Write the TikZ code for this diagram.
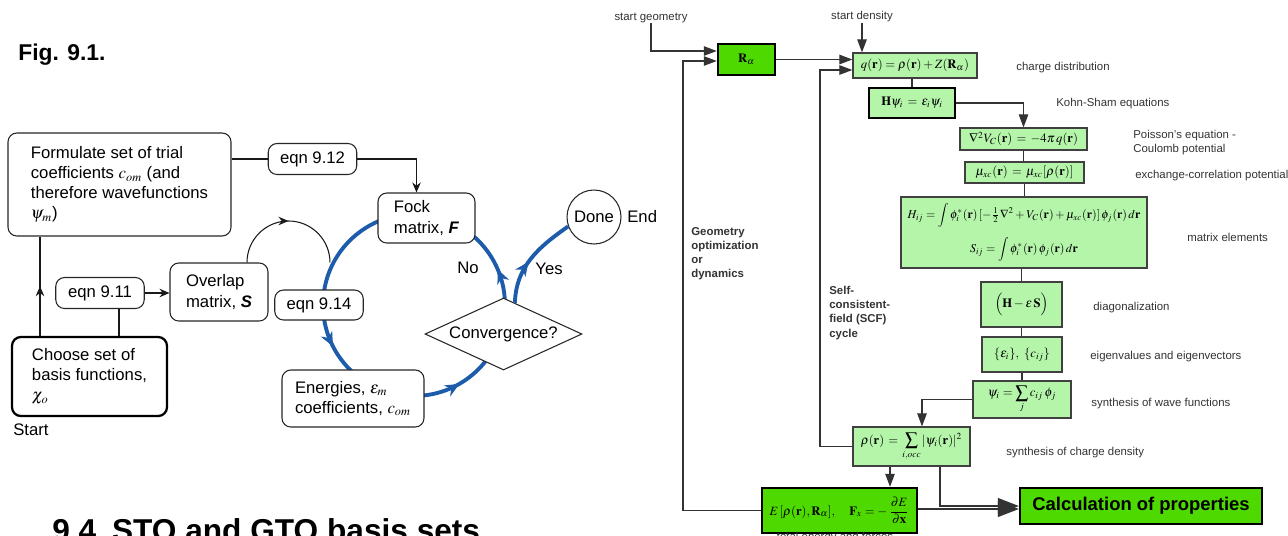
\documentclass[tikz,border=0pt]{standalone}
\usepackage{amsmath}
\usepackage{mathptmx}
\usepackage[no-math]{fontspec}
\setmainfont{Liberation Sans}
\usepackage{tikz}
\usetikzlibrary{shapes.geometric,arrows.meta,positioning,decorations.markings}

\definecolor{cycblue}{RGB}{28,92,170}
\definecolor{dftlight}{RGB}{180,245,170}
\definecolor{dftgreen}{RGB}{78,218,0}

\begin{document}
\begin{tikzpicture}[
        x=0.02cm, y=-0.02cm,
        stepbox/.style={rectangle, rounded corners=5pt, draw=black!85, line width=0.6pt, fill=white, align=left, inner sep=2pt, font=\fontsize{9.5}{11.4}\selectfont},
        startbox/.style={stepbox, draw=black, line width=1.3pt},
        eqnbox/.style={stepbox, minimum width=1.77cm, minimum height=0.62cm},
        plain/.style={inner sep=0pt, font=\fontsize{9.5}{11.4}\selectfont},
        conn/.style={draw=black!90, line width=0.6pt},
        arrow/.style={conn, -{Stealth[length=2mm,width=1.7mm]}},
        midarrow/.style={conn, postaction={decorate}, decoration={markings, mark=at position #1 with {\arrow{Stealth[length=2mm,width=1.7mm]}}}},
        cycline/.style={draw=cycblue, line width=2.2pt, >={Stealth[length=2.8mm,width=2.5mm]}},
        dft/.style={rectangle, draw=black!75, line width=0.7pt, fill=dftlight, inner sep=1pt, font=\fontsize{7.2}{8.6}\selectfont},
        dftbold/.style={dft, draw=black, line width=1.4pt},
        dftmain/.style={dftbold, fill=dftgreen},
        note/.style={inner sep=0pt, align=left, text=black!80, font=\fontsize{6.5}{8}\selectfont},
        notebold/.style={note, font=\fontsize{6.5}{8}\selectfont\bfseries},
        dline/.style={draw=black!80, line width=0.6pt},
        darrow/.style={dline, -{Triangle[length=2.6mm,width=1.9mm]}},
        bigarrow/.style={dline, -{Triangle[length=4.2mm,width=3.2mm]}}
    ]
        \useasboundingbox (0,0) rectangle (1288,535);
        \clip (0,0) rectangle (1288,535);

        % Left: SCF procedure
        \node[anchor=west, inner sep=0pt, font=\fontsize{13}{15}\selectfont\bfseries] (figlabel) at (18,55) {Fig. 9.1.};

        % blue cycle, under the boxes
        \coordinate (cyc) at (414,305);
        \draw[cycline, postaction={decorate}, decoration={markings,
                mark=at position 0.064 with {\arrow{>}},
                mark=at position 0.575 with {\arrow{>}},
                mark=at position 0.833 with {\arrow{>}}}]
            (cyc) ++(0:1.82cm) arc[start angle=0, end angle=360, radius=1.82cm];

        \node[stepbox, minimum width=4.46cm, minimum height=2.06cm] (formulate) at (119.5,184.5) {Formulate set of trial\\coefficients $c_{om}$ (and\\therefore wavefunctions\\$\psi_m$)};
        \node[eqnbox] (eqn912) at (312.5,159) {eqn 9.12};
        \node[stepbox, minimum width=1.94cm, minimum height=1cm] (fock) at (426.5,218) {Fock\\matrix, \textbf{\textit{F}}};
        \node[eqnbox] (eqn911) at (100,293) {eqn 9.11};
        \node[stepbox, minimum width=1.96cm, minimum height=1.16cm] (overlap) at (219,292) {Overlap\\matrix, \textbf{\textit{S}}};
        \node[startbox, minimum width=3.1cm, minimum height=1.58cm] (choose) at (89.5,376.5) {Choose set of\\basis functions,\\$\chi_o$};
        \node[plain, anchor=west] (start) at (13,430) {Start};
        \node[eqnbox, minimum height=0.6cm] (eqn914) at (319,305) {eqn 9.14};
        \node[stepbox, minimum width=2.84cm, minimum height=1.14cm] (energies) at (353,398.5) {Energies, $\varepsilon_m$\\coefficients, $c_{om}$};
        \node[diamond, aspect=2.18, draw=black!85, line width=0.6pt, fill=white, inner sep=0.5pt, minimum width=3.14cm, minimum height=1.44cm, font=\fontsize{9.5}{11.4}\selectfont] (conv) at (503.5,334) {Convergence?};
        \node[circle, draw=black!85, line width=0.6pt, fill=white, minimum size=1.08cm, inner sep=0pt, font=\fontsize{9.5}{11.4}\selectfont] (done) at (594,217) {Done};
        \node[plain, anchor=west] (endlabel) at (627,217) {End};
        \node[plain] (nolabel) at (468,268) {No};
        \node[plain] (yeslabel) at (549,269) {Yes};

        \draw[conn] (formulate.east |- eqn912.west) -- (eqn912.west);
        \draw[arrow] (eqn912.east) -| ([xshift=-0.2cm]fock.north);
        \draw[midarrow=0.5] ([xshift=-0.99cm]choose.north) -- ([xshift=-0.99cm]choose.north |- formulate.south);
        \draw[conn] ([xshift=0.38cm]eqn911.south) -- ([xshift=0.38cm]eqn911.south |- choose.north);
        \draw[arrow] (eqn911.east) -- (eqn911.east -| overlap.west);
        \draw[midarrow=0.5] ([xshift=0.56cm]overlap.north) arc[start angle=180, end angle=0, radius=0.83cm];
        \draw[cycline, postaction={decorate}, decoration={markings, mark=at position 0.45 with {\arrow{>}}}]
            (conv.70) to[out=88, in=215] (done.200);

        \node[anchor=base west, inner sep=0pt, font=\fontsize{18}{20}\selectfont\bfseries] (sechead) at (52,541) {9.4\enspace STO and GTO basis sets};

        % Right: DFT flowchart
        \node[note] (startgeo) at (651,18) {start geometry};
        \node[note] (startden) at (862,17) {start density};
        \node[dftmain, minimum width=1.14cm, minimum height=0.62cm] (ra) at (746.5,59.5) {$\mathbf{R}_\alpha$};
        \node[dft, minimum width=2.48cm, minimum height=0.5cm] (qbox) at (915,65.5) {$q(\mathbf{r}) = \rho(\mathbf{r}) + Z(\mathbf{R}_{\alpha})$};
        \node[dftbold, minimum width=1.72cm, minimum height=0.6cm] (hks) at (912,103) {$\mathbf{H}\psi_i \,=\, \varepsilon_i\psi_i$};
        \node[dft, minimum width=2.54cm, minimum height=0.44cm] (poisson) at (1023.5,139) {$\nabla^2 V_C(\mathbf{r}) \,=\, -4\pi\, q(\mathbf{r})$};
        \node[dft, minimum width=2.38cm, minimum height=0.42cm] (xc) at (1024.5,172.5) {$\mu_{xc}(\mathbf{r}) \,=\, \mu_{xc}[\rho(\mathbf{r})]$};
        \node[dft, minimum width=4.92cm, minimum height=1.42cm, align=center, font=\fontsize{6.8}{8.5}\selectfont] (hij) at (1024,232.5) {$H_{ij} = \displaystyle\int \phi_i^*(\mathbf{r})\,[-\tfrac{1}{2}\nabla^2 + V_C(\mathbf{r}) + \mu_{xc}(\mathbf{r})]\,\phi_j(\mathbf{r})\,d\mathbf{r}$\\[5pt]$S_{ij} = \displaystyle\int \phi_i^*(\mathbf{r})\,\phi_j(\mathbf{r})\,d\mathbf{r}$};
        \node[dft, minimum width=1.62cm, minimum height=0.9cm] (diag) at (1021.5,304.5) {$\Bigl(\mathbf{H} - \varepsilon\,\mathbf{S}\Bigr)$};
        \node[dft, minimum width=1.6cm, minimum height=0.7cm] (eig) at (1022,354.5) {$\{\varepsilon_i\},\ \{c_{ij}\}$};
        \node[dft, minimum width=1.96cm, minimum height=0.74cm] (wave) at (1022,399.5) {$\psi_i = \displaystyle\sum_j c_{ij}\,\phi_j$};
        \node[dft, minimum width=2.34cm, minimum height=0.78cm] (rho) at (911.5,446.5) {$\rho(\mathbf{r}) \,=\, \displaystyle\sum_{i,occ} |\psi_i(\mathbf{r})|^2$};
        \node[dftmain, minimum width=3.1cm, minimum height=0.9cm] (energy) at (839.5,510.5) {$E\,[\rho(\mathbf{r}),\mathbf{R}_\alpha],\quad \mathbf{F}_x = -\,\dfrac{\partial E}{\partial \mathbf{x}}$};
        \node[dftmain, minimum width=4.84cm, minimum height=0.72cm, font=\fontsize{10.5}{12}\selectfont\bfseries] (calc) at (1141,506) {Calculation of properties};
        \node[note] (totlabel) at (835,538) {total energy and forces};

        % side notes
        \node[note, anchor=west] (chargelabel) at (1016,68) {charge distribution};
        \node[note, anchor=west] (kslabel) at (1056,104) {Kohn-Sham equations};
        \node[note, anchor=west] (poissonlabel) at (1133,143) {Poisson's equation -\\Coulomb potential};
        \node[note, anchor=west] (xclabel) at (1135,176) {exchange-correlation potential};
        \node[note, anchor=west] (hijlabel) at (1187,237) {matrix elements};
        \node[note, anchor=west] (diaglabel) at (1093,308) {diagonalization};
        \node[note, anchor=west] (eiglabel) at (1090,357) {eigenvalues and eigenvectors};
        \node[note, anchor=west] (wavelabel) at (1091,404) {synthesis of wave functions};
        \node[note, anchor=west] (rholabel) at (1006,453) {synthesis of charge density};
        \node[notebold, anchor=west] (geolabel) at (691,254) {Geometry\\optimization\\or\\dynamics};
        \node[notebold, anchor=west] (scflabel) at (829,313) {Self-\\consistent-\\field (SCF)\\cycle};

        % connectors
        \coordinate (geo) at (683,61);
        \coordinate (scf) at (820,70);
        \draw[darrow] (startgeo.south) |- ([yshift=0.17cm]ra.west);
        \draw[darrow] (energy.west) -| (geo) -- (geo -| ra.west);
        \draw[darrow] (ra.east) -- (ra.east -| qbox.west);
        \draw[darrow] (rho.west) -| (scf) -- (scf -| qbox.west);
        \draw[darrow] (startden.south) -- (startden.south |- qbox.north);
        \draw[dline] (hks.north) -- (hks.north |- qbox.south);
        \draw[darrow] (hks.east) -| (poisson.north);
        \draw[dline] (poisson.south) -- (poisson.south |- xc.north);
        \draw[dline] (xc.south) -- (xc.south |- hij.north);
        \draw[dline] (diag.north) -- (diag.north |- hij.south);
        \draw[dline] (diag.south) -- (diag.south |- eig.north);
        \draw[dline] (eig.south) -- (eig.south |- wave.north);
        \draw[darrow] (wave.west) -| ([xshift=0.21cm]rho.north);
        \draw[darrow] ([xshift=-0.43cm]rho.south) -- ([xshift=-0.43cm]rho.south |- energy.north);
        \draw[bigarrow] ([xshift=0.57cm]rho.south) |- (calc.west);
        \draw[bigarrow] ([yshift=0.03cm]energy.east) -- ([yshift=0.03cm]energy.east -| calc.west);

    \end{tikzpicture}
\end{document}
